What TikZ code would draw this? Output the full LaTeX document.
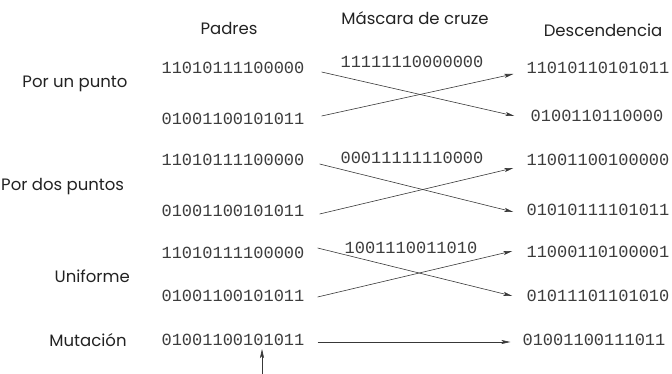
\documentclass[tikz,border=0pt]{standalone}
\usepackage{fontspec}
\setmainfont{Poppins}
\newfontfamily\bitfont{Liberation Mono}
\usetikzlibrary{arrows.meta}
\definecolor{ink}{HTML}{222222}
\definecolor{bitink}{HTML}{3C3C3C}
\begin{document}
\begin{tikzpicture}[x=1pt,y=-1pt,
  lbl/.style={font=\fontsize{16.5}{18}\selectfont, text=ink, inner sep=0pt},
  bits/.style={font=\bitfont\fontsize{17}{19}\selectfont, text=bitink, inner sep=0pt},
  arr/.style={draw=ink!90, line width=0.6pt, -{Stealth[length=9pt,width=4pt,inset=2pt]}}]
\useasboundingbox (0,0) rectangle (672,374);
% headers
\node[lbl] (hp) at (229,28) {Padres};
\node[lbl] (hm) at (415,18) {Máscara de cruze};
\node[lbl] (hd) at (603,30) {Descendencia};
% row labels
\node[lbl] (l1) at (75,84) {Por un punto};
\node[lbl,anchor=west] (l2) at (1,187) {Por dos puntos};
\node[lbl,anchor=east] (l3) at (130,276) {Uniforme};
\node[lbl] (l4) at (88,340) {Mutación};
% parents
\node[bits] (p1) at (233,68) {11010111100000};
\node[bits] (p2) at (233,119) {01001100101011};
\node[bits] (p3) at (233,160) {11010111100000};
\node[bits] (p4) at (233,211) {01001100101011};
\node[bits] (p5) at (233,253) {11010111100000};
\node[bits] (p6) at (233,296) {01001100101011};
\node[bits] (p7) at (233,340) {01001100101011};
% masks
\node[bits] (m1) at (412,62) {11111110000000};
\node[bits] (m2) at (412,158) {00011111110000};
\node[bits] (m3) at (411,248) {1001110011010};
% offspring
\node[bits] (o1) at (598,68) {11010110101011};
\node[bits] (o2) at (597,116) {0100110110000};
\node[bits] (o3) at (598,160) {11001100100000};
\node[bits] (o4) at (598,210) {01010111101011};
\node[bits] (o5) at (598,252) {11000110100001};
\node[bits] (o6) at (598,296) {01011101101010};
\node[bits] (o7) at (594,340) {01001100111011};
% arrows
\draw[arr] ([xshift=17pt,yshift=-4pt]p1.east) -- ([xshift=-16pt]o2.west);
\draw[arr] ([xshift=17pt,yshift=3pt]p2.east) -- ([xshift=-13pt,yshift=-6pt]o1.west);
\draw[arr] ([xshift=15pt,yshift=-4pt]p3.east) -- ([xshift=-13pt,yshift=-2pt]o4.west);
\draw[arr] ([xshift=15pt,yshift=-3pt]p4.east) -- ([xshift=-13pt,yshift=-8pt]o3.west);
\draw[arr] ([xshift=13pt,yshift=5pt]p5.east) -- ([xshift=-14pt]o6.west);
\draw[arr] ([xshift=13pt,yshift=-1pt]p6.east) -- ([xshift=-14pt,yshift=1pt]o5.west);
\draw[arr] ([xshift=13pt,yshift=-2pt]p7.east) -- ([xshift=-12pt,yshift=-2pt]o7.west);
\coordinate (mut) at (262,374);
\draw[arr] (mut) -- (262,349);
\end{tikzpicture}
\end{document}
